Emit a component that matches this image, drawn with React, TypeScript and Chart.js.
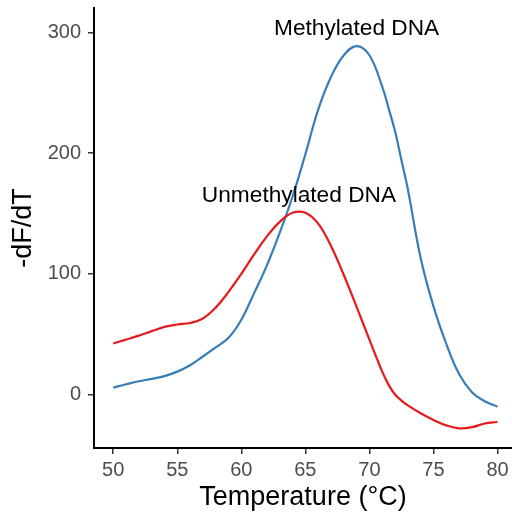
import React, { useEffect, useRef } from "react";
import { Chart, registerables } from "chart.js";

Chart.register(...registerables);

const temperatures = [50, 51, 52, 53, 54, 55, 56, 57, 58, 59, 60, 61, 62, 63, 64, 65, 66, 67, 68, 69, 70, 71, 71.5, 72, 72.5, 73, 74, 75, 76, 77, 78, 79, 80];
const unmethylated = [42.3, 45.5, 48.8, 52.5, 56, 58, 59.3, 63, 72, 85, 100, 116, 131, 143, 150.5, 150.5, 141.5, 123, 99, 72.6, 45.5, 19, 8, 0, -5, -9, -15.5, -21, -25.5, -28, -27, -24, -22.7];
const methylated = [5.8, 8.5, 11, 13, 15.3, 19, 24.3, 31.5, 39, 47, 62, 84, 107, 134, 164, 199, 236, 263, 281, 288.5, 281, 255, 237, 218, 194, 170, 113, 73, 42, 17, 2, -5.5, -10];

const xTicks = [50, 55, 60, 65, 70, 75, 80];
const yTicks = [0, 100, 200, 300];

const labelTexts = ["Methylated DNA", "Unmethylated DNA"];
const labelX = [69.0, 64.5];
const labelY = [303, 165];

const FONT = "'Liberation Sans', Arial, Helvetica, sans-serif";

export default function App() {
  const ref = useRef<HTMLCanvasElement | null>(null);

  useEffect(() => {
    if (!ref.current) return;
    const textPlugin = {
      id: "textLabels",
      afterDatasetsDraw(chart: any) {
        const ctx = chart.ctx;
        const xs = chart.scales.x;
        const ys = chart.scales.y;
        ctx.save();
        ctx.font = `22.7px ${FONT}`;
        ctx.fillStyle = "#000000";
        ctx.textAlign = "center";
        ctx.textBaseline = "middle";
        labelTexts.forEach((t, i) => {
          ctx.fillText(t, xs.getPixelForValue(labelX[i]), ys.getPixelForValue(labelY[i]));
        });
        ctx.restore();
      },
    };

    const chart = new Chart(ref.current, {
      type: "line",
      data: {
        datasets: [
          {
            label: "Unmethylated DNA",
            data: temperatures.map((t, i) => ({ x: t, y: unmethylated[i] })),
            borderColor: "#E41A1C",
            borderWidth: 2.2,
            pointRadius: 0,
            tension: 0.4,
            fill: false,
          },
          {
            label: "Methylated DNA",
            data: temperatures.map((t, i) => ({ x: t, y: methylated[i] })),
            borderColor: "#377EB8",
            borderWidth: 2.2,
            pointRadius: 0,
            tension: 0.4,
            fill: false,
          },
        ],
      },
      options: {
        responsive: false,
        animation: false,
        layout: { padding: { top: 8, left: 0, right: 0, bottom: 0 } },
        plugins: {
          legend: { display: false },
          tooltip: { enabled: false },
        },
        scales: {
          x: {
            type: "linear",
            min: 48.5,
            max: 81.13,
            afterBuildTicks: (s: any) => {
              s.ticks = xTicks.map((v) => ({ value: v }));
            },
            afterFit: (s: any) => {
              s.height = 67;
              s.paddingLeft = 0;
              s.paddingRight = 0;
              s.paddingTop = 0;
              s.paddingBottom = 0;
            },
            grid: {
              display: true,
              drawOnChartArea: false,
              drawTicks: true,
              tickLength: 6,
              tickColor: "#333333",
              lineWidth: 1.5,
            },
            border: { display: true, color: "#000000", width: 2 },
            ticks: {
              color: "#4D4D4D",
              font: { family: FONT, size: 20 },
              padding: 4,
              maxRotation: 0,
              autoSkip: false,
              callback: (v: any) => String(v),
            },
            title: {
              display: true,
              text: "Temperature (°C)",
              color: "#000000",
              font: { family: FONT, size: 27 },
              padding: { top: 0, bottom: 1.5 },
            },
          },
          y: {
            type: "linear",
            min: -44.25,
            max: 320.1,
            afterBuildTicks: (s: any) => {
              s.ticks = yTicks.map((v) => ({ value: v }));
            },
            afterFit: (s: any) => {
              s.width = 94;
              s.paddingLeft = 0;
              s.paddingRight = 0;
              s.paddingTop = 0;
              s.paddingBottom = 0;
            },
            grid: {
              display: true,
              drawOnChartArea: false,
              drawTicks: true,
              tickLength: 6,
              tickColor: "#333333",
              lineWidth: 1.5,
            },
            border: { display: true, color: "#000000", width: 2 },
            ticks: {
              color: "#4D4D4D",
              font: { family: FONT, size: 20 },
              padding: 7,
              autoSkip: false,
              callback: (v: any) => String(v),
            },
            title: {
              display: true,
              text: "-dF/dT",
              color: "#000000",
              font: { family: FONT, size: 27 },
              padding: { top: 7.5, bottom: 0 },
            },
          },
        },
      },
      plugins: [textPlugin],
    });
    return () => chart.destroy();
  }, []);

  return (
    <div style={{ position: "fixed", left: 0, top: 0, width: 512, height: 515, background: "#ffffff" }}>
      <canvas ref={ref} width={512} height={515} style={{ display: "block" }} />
    </div>
  );
}
